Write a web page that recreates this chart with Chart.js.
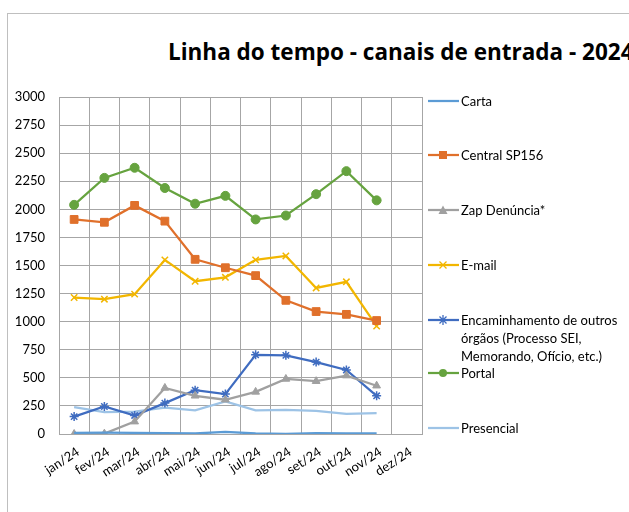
<!DOCTYPE html>
<html>
<head>
<meta charset="utf-8">
<script src="https://cdn.jsdelivr.net/npm/chart.js@4"></script>
<style>
  html, body { margin:0; padding:0; width:629px; height:512px; overflow:hidden; background:#fff; font-family:Lato, "Open Sans", sans-serif; }
  #frame { position:absolute; left:7px; top:13px; width:700px; height:600px; border:1px solid #bfbfbf; }
  #title { position:absolute; left:168px; top:41px; font-family:"Open Sans", sans-serif; font-weight:bold; font-size:22.5px; line-height:22px; white-space:nowrap; color:#000; }
  #chart { position:absolute; left:0; top:0; }
  #legend { position:absolute; left:428px; top:0; width:210px; }
  .item { position:absolute; left:0; font-size:13px; line-height:18px; color:#000; }
  .item svg { position:absolute; left:0; top:0; }
  .item span { position:absolute; left:33px; top:-3px; white-space:nowrap; }
</style>
</head>
<body>
<div id="frame"></div>
<div id="title">Linha do tempo - canais de entrada - 2024</div>
<canvas id="chart" width="629" height="512"></canvas>
<div id="legend"></div>
<script>
/* ── data ────────────────────────────────────────── */
const months = ['jan/24','fev/24','mar/24','abr/24','mai/24','jun/24','jul/24','ago/24','set/24','out/24','nov/24','dez/24'];

const carta      = [10, 12, 10, 8, 5, 18, 5, 2, 7, 5, 5];
const central    = [1910, 1885, 2035, 1895, 1555, 1480, 1410, 1190, 1090, 1065, 1010];
const zap        = [0, 3, 110, 410, 340, 305, 375, 490, 470, 520, 430];
const email      = [1215, 1200, 1245, 1550, 1360, 1395, 1550, 1585, 1300, 1355, 960];
const encaminh   = [155, 245, 165, 275, 390, 355, 705, 700, 640, 570, 340];
const portal     = [2040, 2280, 2370, 2190, 2050, 2120, 1910, 1945, 2135, 2340, 2080];
const presencial = [240, 195, 200, 235, 210, 290, 210, 215, 205, 180, 185];

const yTicks = { min: 0, max: 3000, step: 250 };

/* ── series look ─────────────────────────────────── */
const series = [
  { label:'Carta',          data:carta,      color:'#5B9BD5', point:false },
  { label:'Central SP156',  data:central,    color:'#E0702B', point:'rect' },
  { label:'Zap Denúncia*',  data:zap,        color:'#A0A0A0', point:'triangle' },
  { label:'E-mail',         data:email,      color:'#F2B600', point:'crossRot' },
  { label:'Encaminhamento de outros órgãos (Processo SEI, Memorando, Ofício, etc.)',
                            data:encaminh,   color:'#3F6CC0', point:'star' },
  { label:'Portal',         data:portal,     color:'#66A33F', point:'circle' },
  { label:'Presencial',     data:presencial, color:'#9DC3E6', point:false }
];
const legendTop = [101, 155, 210, 265, 320, 373, 428];

const font = { family:'Lato', size:13 };
const gridCol = '#A6A6A6';

new Chart(document.getElementById('chart'), {
  type: 'line',
  data: {
    labels: months,
    datasets: series.map(s => ({
      label: s.label,
      data: s.data,
      borderColor: s.color,
      backgroundColor: s.color,
      borderWidth: 2.25,
      tension: 0,
      pointStyle: s.point || 'circle',
      pointRadius: s.point ? (s.point === 'rect' ? 5.5 : 4.5) : 0,
      pointBorderWidth: (s.point === 'crossRot' || s.point === 'star') ? 1.5 : 1,
      pointBorderColor: s.color,
      pointBackgroundColor: s.color
    }))
  },
  options: {
    responsive: false,
    animation: false,
    layout: { padding: { top: 97, right: 207, left: 0, bottom: 0 } },
    plugins: { legend: { display:false }, title: { display:false }, tooltip: { enabled:false } },
    scales: {
      x: {
        offset: true,
        grid: { offset: true, color: gridCol, drawTicks: false },
        border: { color: gridCol },
        ticks: { autoSkip: false, minRotation: 33, maxRotation: 33, padding: 10, labelOffset: 4, color: '#000', font },
        afterFit(s) { s.height = 78; }
      },
      y: {
        min: yTicks.min, max: yTicks.max,
        grid: { color: gridCol, drawTicks: false },
        border: { color: gridCol },
        ticks: { stepSize: yTicks.step, padding: 14, color: '#000', font, callback: v => String(v) },
        afterFit(s) { s.width = 59; }
      }
    }
  }
});

/* ── legend (html, right side) ───────────────────── */
function marker(s) {
  const c = s.color;
  let m = '';
  if (s.point === 'rect')     m = `<rect x="11" y="2" width="8" height="8" fill="${c}"/>`;
  if (s.point === 'triangle') m = `<polygon points="15,1.5 19.5,10 10.5,10" fill="${c}"/>`;
  if (s.point === 'circle')   m = `<circle cx="15" cy="6" r="4" fill="${c}"/>`;
  if (s.point === 'crossRot') m = `<path d="M11.5 2.5 L18.5 9.5 M18.5 2.5 L11.5 9.5" stroke="${c}" stroke-width="1.3"/>`;
  if (s.point === 'star')     m = `<path d="M11.5 2.5 L18.5 9.5 M18.5 2.5 L11.5 9.5 M15 1 L15 11 M10 6 L20 6" stroke="${c}" stroke-width="1.3"/>`;
  return `<svg width="31" height="12"><line x1="0" y1="6" x2="31" y2="6" stroke="${c}" stroke-width="2.25"/>${m}</svg>`;
}
const leg = document.getElementById('legend');
series.forEach((s, i) => {
  const label = i === 4
    ? 'Encaminhamento de outros<br>órgãos (Processo SEI,<br>Memorando, Ofício, etc.)'
    : s.label;
  leg.insertAdjacentHTML('beforeend',
    `<div class="item" style="top:${legendTop[i] - 6}px">${marker(s)}<span>${label}</span></div>`);
});
</script>
</body>
</html>
